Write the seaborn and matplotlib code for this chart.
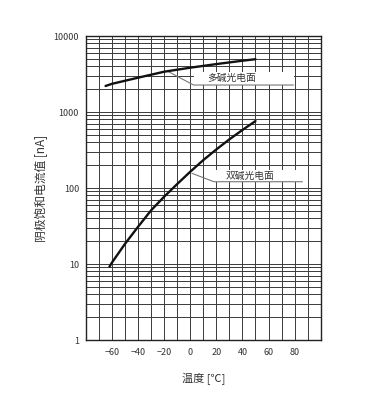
import pandas as pd
import matplotlib
matplotlib.use("Agg")
import matplotlib.pyplot as plt
import seaborn as sns
from matplotlib.ticker import MultipleLocator, LogLocator, NullFormatter

# curve readings (temperature in degC, current in nA)
multi_temp = [-65, -60, -40, -20, 0, 20, 40, 50]
multi_current = [2200, 2350, 2830, 3390, 3830, 4270, 4730, 4950]

bi_temp = [-62, -60, -50, -40, -30, -20, -10, 0, 10, 20, 30, 40, 50]
bi_current = [9.2, 10.5, 18.5, 31, 51, 77, 113, 164, 233, 322, 437, 580, 760]

x_ticks = [-60, -40, -20, 0, 20, 40, 60, 80]
y_ticks = [1, 10, 100, 1000, 10000]
y_labels = ["1", "10", "100", "1000", "10000"]

# labels with leader lines: tip on curve, elbow, end of underline
multi_label = "多碱光电面"
multi_leader_x = [-16.7, 2.5, 79.2]
multi_leader_y = [3390, 2265, 2265]
multi_text_pos = (31.5, 2780)
multi_box = (2.5, 79.2, 2265, 3350)

bi_label = "双碱光电面"
bi_leader_x = [1.3, 18.0, 86.0]
bi_leader_y = [156, 121, 121]
bi_text_pos = (45.5, 143)
bi_box = (18.0, 86.0, 121, 175)

sns.set_theme(style="white")
plt.rcParams['font.family'] = ['Noto Sans CJK SC', 'DejaVu Sans']

df = pd.concat([
    pd.DataFrame({"temp": multi_temp, "current": multi_current, "kind": multi_label}),
    pd.DataFrame({"temp": bi_temp, "current": bi_current, "kind": bi_label}),
])

fig = plt.figure(figsize=(3.81, 4.0), dpi=100)
ax = fig.add_axes([0.2257, 0.15, 0.6160, 0.76])
ax.set_yscale("log")

sns.lineplot(data=df, x="temp", y="current", units="kind", estimator=None,
             color="#111111", linewidth=1.7, legend=False, ax=ax, zorder=4,
             sort=False)

ax.set_xlim(-80, 100)
ax.set_ylim(1, 10000)

ax.set_xticks(x_ticks)
ax.set_xticklabels([str(t).replace("-", "\u2212") for t in x_ticks])
ax.xaxis.set_minor_locator(MultipleLocator(10))
ax.set_yticks(y_ticks)
ax.set_yticklabels(y_labels)
ax.yaxis.set_minor_locator(LogLocator(base=10, subs=range(2, 10)))
ax.yaxis.set_minor_formatter(NullFormatter())

ax.grid(which="both", color="#3a3a3a", linewidth=0.7)
ax.set_axisbelow(True)
ax.tick_params(which="both", length=0, labelsize=6.5, labelcolor="#333333")
ax.tick_params(axis="x", pad=6)
ax.tick_params(axis="y", pad=5)
for s in ax.spines.values():
    s.set_color("#222222")
    s.set_linewidth(1.0)

# white boxes under the labels, then leaders and text
for (x0, x1, y0, y1), lx, ly, txt, pos in [
    (multi_box, multi_leader_x, multi_leader_y, multi_label, multi_text_pos),
    (bi_box, bi_leader_x, bi_leader_y, bi_label, bi_text_pos),
]:
    ax.fill_between([x0, x1], y0, y1, color="white", zorder=2, linewidth=0)
    ax.plot(lx, ly, color="#777777", linewidth=0.8, zorder=3)
    ax.text(pos[0], pos[1], txt, fontsize=7, color="#333333",
            ha="center", va="center", zorder=3)

ax.set_xlabel("温度 [℃]", fontsize=8, color="#333333", labelpad=11)
ax.set_ylabel("阴极饱和电流值 [nA]", fontsize=8.5, color="#333333", labelpad=4)

fig.savefig("out.png", dpi=100)
